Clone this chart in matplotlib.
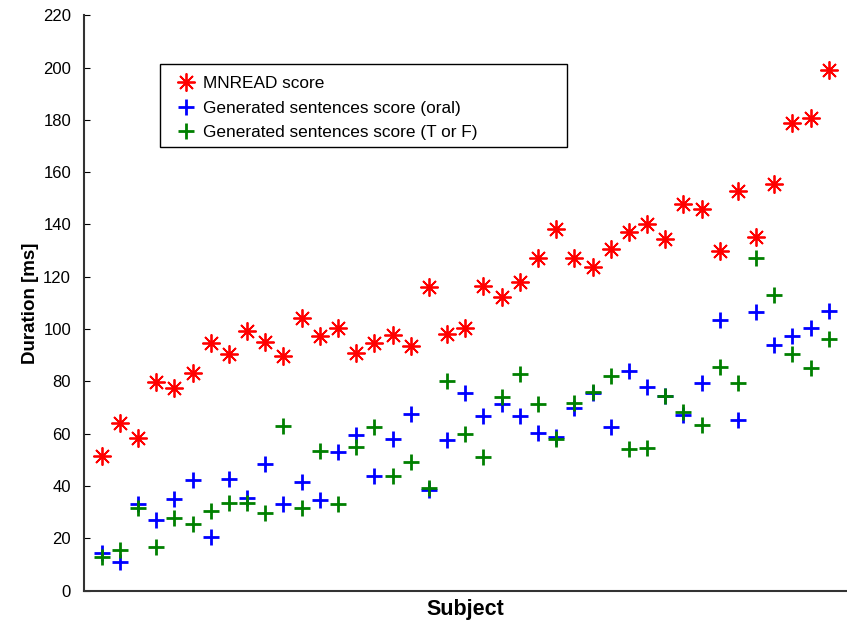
import numpy as np
import matplotlib.pyplot as plt
from matplotlib.patches import Rectangle

plt.rcParams['font.family'] = ['Liberation Sans', 'DejaVu Sans']

# ── Werte ───────────────────────────────────────────────────
subjects = np.arange(1, 42)

mnread = [51.5, 64.2, 58.2, 79.9, 77.5, 83.2, 94.6, 90.5, 99.3, 94.9,
          89.7, 104.1, 97.3, 100.5, 91.0, 94.6, 97.7, 93.5, 116.0, 98.0,
          100.3, 116.5, 112.2, 117.9, 127.3, 138.2, 127.3, 123.6, 130.5, 137.3,
          140.2, 134.3, 147.8, 145.8, 130.0, 152.8, 135.3, 155.4, 179.0, 180.6,
          199.2]

oral = [14.3, 11.1, 33.1, 27.0, 34.9, 42.3, 20.4, 42.5, 35.5, 48.3,
        33.1, 41.4, 34.6, 53.1, 59.5, 43.9, 58.0, 67.5, 38.5, 57.6,
        75.4, 66.8, 71.4, 66.9, 60.4, 58.9, 69.7, 75.7, 62.7, 84.1,
        77.7, 74.4, 67.2, 79.3, 103.5, 65.2, 106.4, 94.0, 97.2, 100.4,
        107.0]

tf = [13.0, 15.5, 31.5, 16.8, 27.6, 25.4, 30.6, 33.4, 33.4, 29.6,
      63.0, 31.7, 53.5, 33.1, 54.8, 62.7, 43.9, 49.1, 39.1, 80.3,
      59.8, 51.2, 74.2, 82.7, 71.4, 57.8, 71.9, 76.1, 82.1, 54.1,
      54.6, 74.6, 68.4, 63.3, 85.4, 79.3, 127.3, 113.0, 90.4, 85.3,
      96.1]

labels = ['MNREAD score',
          'Generated sentences score (oral)',
          'Generated sentences score (T or F)']

# ── Plot ────────────────────────────────────────────────────
fig = plt.figure(figsize=(8.47, 6.24), dpi=100)
ax = fig.add_axes([0.0986, 0.0535, 0.9014, 0.922])

ax.plot(subjects, mnread, linestyle='none', marker=(8, 2, 0),
        markersize=13, markeredgewidth=1.3, color='#ff0000', label=labels[0])
ax.plot(subjects, oral, linestyle='none', marker='+',
        markersize=12, markeredgewidth=2.0, color='#0000ff', label=labels[1])
ax.plot(subjects, tf, linestyle='none', marker='+',
        markersize=12, markeredgewidth=2.0, color='#008000', label=labels[2])

ax.set_xlim(0, 42)
ax.set_ylim(0, 220)
ax.set_yticks(np.arange(0, 221, 20))
ax.set_xticks([])
ax.tick_params(axis='y', direction='in', length=4, labelsize=12, pad=9)

for s in ['top', 'right']:
    ax.spines[s].set_visible(False)
for s in ['left', 'bottom']:
    ax.spines[s].set_linewidth(1.5)
    ax.spines[s].set_color('#333333')

ax.set_xlabel('Subject', fontsize=15.5, fontweight='bold', labelpad=6)
ax.set_ylabel('Duration [ms]', fontsize=13.5, fontweight='bold', labelpad=3)

# Legende ohne eigenen Rahmen, Rahmen separat (breiter als der Text)
leg = ax.legend(loc='upper left', bbox_to_anchor=(0.2073, 0.8777),
                bbox_transform=fig.transFigure,
                numpoints=1, handlelength=1.2, handletextpad=0.37,
                fontsize=12.4, frameon=False,
                borderpad=0, labelspacing=0.53, borderaxespad=0)
fig.patches.append(Rectangle((160 / 847, 1 - 147 / 624), 407 / 847, 83 / 624,
                             transform=fig.transFigure, fill=False,
                             edgecolor='black', linewidth=1.0, zorder=5))

plt.savefig('out.png', dpi=100)
